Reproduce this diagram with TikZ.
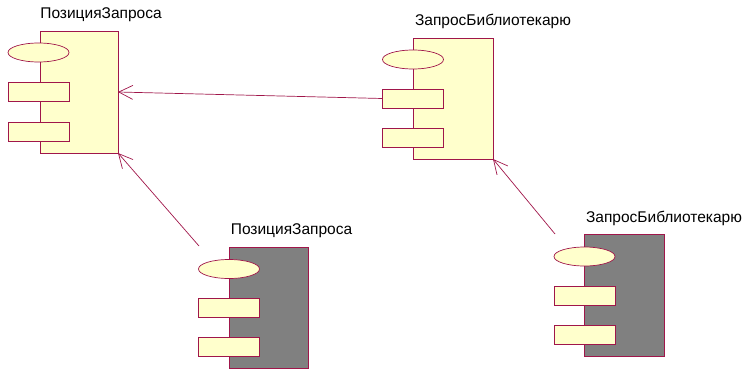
\documentclass[tikz,border=0pt]{standalone}
\usepackage{fontspec}
\setmainfont{Liberation Sans}
\usepackage{tikz}
\usetikzlibrary{shapes.geometric,arrows.meta,positioning}
\definecolor{umlfill}{HTML}{FFFFCC}
\definecolor{umlline}{HTML}{A0164A}
\definecolor{umlgray}{HTML}{808080}

\begin{document}
\begin{tikzpicture}[x=1pt, y=-1pt,
  every node/.style={inner sep=0pt, outer sep=0pt},
  comp/.style={draw=umlline, line width=0.9pt, fill=umlfill},
  dark/.style={fill=umlgray},
  ell/.style={ellipse, draw=umlline, line width=0.7pt, fill=umlfill, minimum width=61pt, minimum height=19pt},
  port/.style={rectangle, draw=umlline, line width=0.9pt, fill=umlfill, minimum width=61pt, minimum height=19pt},
  lbl/.style={font=\fontsize{15.5}{18}\selectfont},
  dep/.style={draw=umlline, line width=0.7pt, -{Straight Barb[length=14pt,width=14pt]}}
]
\useasboundingbox (0,0) rectangle (746,369);

% ПозицияЗапроса, top
\node[comp, minimum width=78pt, minimum height=122pt] (pz1) at (79,92) {};
\node[ell] (pz1e) at (38.5,52.5) {};
\node[port] (pz1a) at (38.5,91.5) {};
\node[port] (pz1b) at (38.5,131.5) {};
\node[lbl] (pz1l) at (101,15) {ПозицияЗапроса};

% ЗапросБиблиотекарю, top
\node[comp, minimum width=80pt, minimum height=121pt] (zb1) at (453,98.5) {};
\node[ell] (zb1e) at (413,59.5) {};
\node[port] (zb1a) at (413,98.5) {};
\node[port] (zb1b) at (413,137.5) {};
\node[lbl] (zb1l) at (493,21) {ЗапросБиблиотекарю};

% ПозицияЗапроса, grey
\node[comp, dark, minimum width=79pt, minimum height=121pt] (pz2) at (268.5,307.5) {};
\node[ell] (pz2e) at (229,269) {};
\node[port] (pz2a) at (229,307.5) {};
\node[port] (pz2b) at (229,346.5) {};
\node[lbl] (pz2l) at (291.5,231) {ПозицияЗапроса};

% ЗапросБиблиотекарю, grey
\node[comp, dark, minimum width=80pt, minimum height=122pt] (zb2) at (624,295) {};
\node[ell] (zb2e) at (584.5,256.5) {};
\node[port] (zb2a) at (584.5,295.5) {};
\node[port] (zb2b) at (584.5,334.5) {};
\node[lbl] (zb2l) at (664,218) {ЗапросБиблиотекарю};

% dependencies
\coordinate (pz2c) at (199,246);
\coordinate (zb2c) at (555,234);
\draw[dep] (zb1a.west) -- (pz1.east);
\draw[dep] (pz2c) -- (pz1.south east);
\draw[dep] (zb2c) -- (zb1.south east);
\end{tikzpicture}
\end{document}
